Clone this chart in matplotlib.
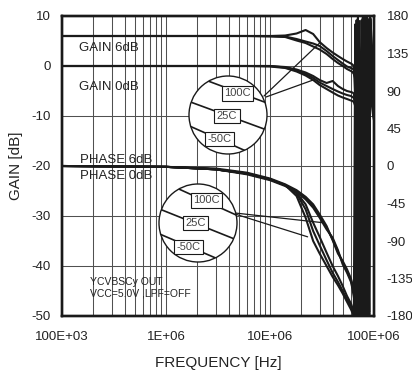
import matplotlib
matplotlib.use('Agg')
import matplotlib.pyplot as plt
import numpy as np
from matplotlib.lines import Line2D
from matplotlib.patches import Circle
from matplotlib.ticker import LogLocator, NullFormatter
from matplotlib.transforms import Affine2D

plt.rcParams['font.family'] = ['Liberation Sans', 'DejaVu Sans']
plt.rcParams['axes.unicode_minus'] = False

# frequency grid of the sweep, MHz
freq_mhz = [0.1, 1, 3, 6, 10, 14, 18, 22, 26, 30, 35, 40, 45, 50, 55, 60,
            62, 64, 66, 68, 70, 72, 74, 76, 78, 80, 82, 84, 86, 88, 90, 92,
            94, 96, 98, 100]

# gain [dB], curves stop once they leave the bottom of the chart
gain6_m50c = [6.0, 6.0, 6.0, 6.0, 6.0, 6.1, 6.5, 7.2, 6.4, 4.8, 3.6, 2.7,
              2.0, 1.4, 0.9, 0.5, 0.3, 0.0, -6.0, -28.0, -55.0]
gain6_25c = [6.0, 6.0, 6.0, 6.0, 6.0, 5.9, 5.4, 4.9, 4.5, 4.0, 3.0, 2.0,
             1.2, 0.5, -0.1, -0.4, -0.5, -0.8, -2.0, -10.0, -30.0, -55.0]
gain6_100c = [6.0, 6.0, 6.0, 6.0, 5.9, 5.8, 5.1, 4.6, 3.9, 3.3, 2.4, 1.4,
              0.6, 0.0, -0.6, -1.0, -1.2, -1.6, -2.5, -4.0, -12.0, -30.0,
              -55.0]
gain0_m50c = [0.0, 0.0, 0.0, 0.0, 0.0, -0.2, -0.7, -1.3, -2.0, -2.8, -3.4,
              -3.0, -4.0, -4.6, -5.0, -5.2, -5.3, -5.5, -8.0, -20.0, -45.0,
              -55.0]
gain0_25c = [0.0, 0.0, 0.0, 0.0, 0.0, -0.3, -0.9, -1.6, -2.4, -3.3, -4.0,
             -4.6, -5.1, -5.5, -5.8, -6.0, -6.2, -6.4, -7.5, -12.0, -30.0,
             -55.0]
gain0_100c = [0.0, 0.0, 0.0, 0.0, -0.1, -0.4, -1.1, -1.9, -2.8, -3.8, -4.6,
              -5.3, -5.9, -6.3, -6.6, -6.9, -7.0, -7.2, -8.0, -9.0, -16.0,
              -35.0, -55.0]

# phase [deg], wrapped into -180..180 as the analyser shows it
phase6_m50c = [0, -1, -4, -9, -16, -23, -30, -38, -48, -60, -74, -88, -103,
               -116, -126, -137, -144, -153, -165, -176, 172, 90, -30, -150,
               -179, 176, 100, -10, -130, -178, 175, 150, 120, 90, 70, 60]
phase6_25c = [0, -1, -4, -10, -17, -24, -31, -40, -50, -62, -76, -86, -101,
              -118, -128, -139, -147, -157, -169, -178, 175, 130, 30, -90,
              -170, -179, 174, 90, -40, -160, -179, 176, 140, 110, 90, 70]
phase6_100c = [0, -1, -3, -8, -15, -22, -29, -37, -46, -58, -72, -89, -105,
               -114, -124, -135, -142, -150, -161, -172, -179, 174, 110, 0,
               -120, -178, 178, 120, 20, -100, -175, 177, 150, 120, 95, 80]
phase0_m50c = [0, -1, -4, -9, -16, -23, -36, -62, -90, -105, -120, -133,
               -143, -153, -163, -172, -176, -179, 170, 60, -80, -170, -179,
               175, 90, -40, -150, -179, 178, 140, 110, 95, 80, 70, 60, 55]
phase0_25c = [0, -1, -4, -9, -16, -23, -33, -52, -78, -95, -113, -128, -139,
              -150, -160, -168, -172, -177, -179, 175, 100, -20, -140, -179,
              178, 110, 0, -120, -178, 176, 150, 120, 100, 85, 75, 70]
phase0_100c = [0, -1, -4, -9, -16, -23, -32, -46, -68, -85, -104, -120, -132,
               -144, -156, -165, -170, -174, -178, -180, 178, 140, 40, -80,
               -170, -179, 177, 80, -50, -160, -178, 178, 160, 140, 130, 120]

x_ticks = [1e5, 1e6, 1e7, 1e8]
x_tick_labels = ['100E+03', '1E+06', '10E+06', '100E+06']
gain_ticks = [-50, -40, -30, -20, -10, 0, 10]
phase_ticks = [-180, -135, -90, -45, 0, 45, 90, 135, 180]

temp_labels = ['100C', '25C', '-50C']


def main():
    w, h = 412, 374
    fig = plt.figure(figsize=(w / 100, h / 100), dpi=100)
    # image pixel coordinates (origin top left) for the drawn-on callouts
    px = Affine2D().scale(1 / w, -1 / h).translate(0, 1) + fig.transFigure

    ax = fig.add_axes([62 / w, (h - 316) / h, 312 / w, 300 / h])
    ax2 = ax.twinx()

    freq_hz = np.array(freq_mhz) * 1e6
    line_kw = dict(color='#1a1a1a', lw=1.5, solid_joinstyle='round')

    for g in [gain6_m50c, gain6_25c, gain6_100c,
              gain0_m50c, gain0_25c, gain0_100c]:
        ax.plot(freq_hz[:len(g)], g, **line_kw)
    for p in [phase6_m50c, phase6_25c, phase6_100c,
              phase0_m50c, phase0_25c, phase0_100c]:
        ax2.plot(freq_hz[:len(p)], p, **line_kw)

    ax.set_xscale('log')
    ax.set_xlim(1e5, 1e8)
    ax.set_ylim(-50, 10)
    ax2.set_ylim(-180, 180)

    ax.set_xticks(x_ticks)
    ax.set_xticklabels(x_tick_labels)
    ax.xaxis.set_minor_locator(LogLocator(base=10, subs=range(2, 10)))
    ax.xaxis.set_minor_formatter(NullFormatter())
    ax.set_yticks(gain_ticks)
    ax2.set_yticks(phase_ticks)

    ax.grid(True, which='both', axis='x', color='#505050', lw=0.75)
    ax.grid(True, which='major', axis='y', color='#505050', lw=0.75)
    ax.set_axisbelow(True)

    ax.tick_params(axis='both', which='both', length=0, labelsize=9.5,
                   colors='#222222')
    ax.tick_params(axis='x', pad=11)
    ax.tick_params(axis='y', pad=8)
    ax2.tick_params(axis='y', length=0, labelsize=9.5, pad=9,
                    colors='#222222')
    for a in (ax, ax2):
        for s in a.spines.values():
            s.set_linewidth(1.7)
            s.set_color('#1a1a1a')

    ax.set_xlabel('FREQUENCY [Hz]', fontsize=11, color='#222222')
    ax.xaxis.set_label_coords(0.5, -0.135)
    ax.set_ylabel('GAIN [dB]', fontsize=11, color='#222222')
    ax.yaxis.set_label_coords(-0.125, 0.5)

    # curve names
    txt_kw = dict(transform=px, fontsize=9.5, color='#222222',
                  ha='left', va='center')
    fig.text(79, 48, 'GAIN 6dB', **txt_kw)
    fig.text(79, 87, 'GAIN 0dB', **txt_kw)
    fig.text(80, 160.5, 'PHASE 6dB', **txt_kw)
    fig.text(80, 176.5, 'PHASE 0dB', **txt_kw)
    note_kw = dict(txt_kw, fontsize=7.5)
    fig.text(90, 282, 'YCVBSCy OUT', **note_kw)
    fig.text(90, 294, 'VCC=5.0V ,LPF=OFF', **note_kw)

    # magnifier callouts: (centre, radius, inner lines, label centres)
    callouts = [
        ((228, 115), 39,
         [((200, 78), (275, 106)), ((185, 100), (275, 133)),
          ((185, 124), (255, 155))],
         [(237.5, 93.5), (227, 116), (219.5, 139)]),
        ((198, 223), 39,
         [((170, 185), (245, 219)), ((152, 206), (242, 242)),
          ((155, 232), (225, 262))],
         [(206.5, 200.5), (195.5, 223), (188.5, 247)]),
    ]
    for (cx, cy), r, lines, labels in callouts:
        circ = Circle((cx, cy), r, transform=px, facecolor='white',
                      edgecolor='#1a1a1a', lw=1.0)
        fig.add_artist(circ)
        for (x0, y0), (x1, y1) in lines:
            ln = Line2D([x0, x1], [y0, y1], transform=px, color='#1a1a1a',
                        lw=1.2)
            ln.set_clip_path(circ)
            fig.add_artist(ln)
        for (tx, ty), name in zip(labels, temp_labels):
            fig.text(tx, ty, name, transform=px, fontsize=8,
                     color='#444444', ha='center', va='center',
                     bbox=dict(boxstyle='square,pad=0.22', fc='white',
                               ec='#1a1a1a', lw=0.8))

    lead_kw = dict(arrowstyle='-', color='#1a1a1a', lw=0.9,
                   shrinkA=0, shrinkB=0)
    ax.annotate('', xy=(30e6, 4.6), xytext=(264, 96), textcoords=px,
                arrowprops=lead_kw)
    ax.annotate('', xy=(26e6, -2.8), xytext=(266, 97), textcoords=px,
                arrowprops=lead_kw)
    ax2.annotate('', xy=(32e6, -68), xytext=(235, 213), textcoords=px,
                 arrowprops=lead_kw)
    ax2.annotate('', xy=(23e6, -85), xytext=(235, 214), textcoords=px,
                 arrowprops=lead_kw)

    fig.savefig('out.png', dpi=100)


if __name__ == '__main__':
    main()
